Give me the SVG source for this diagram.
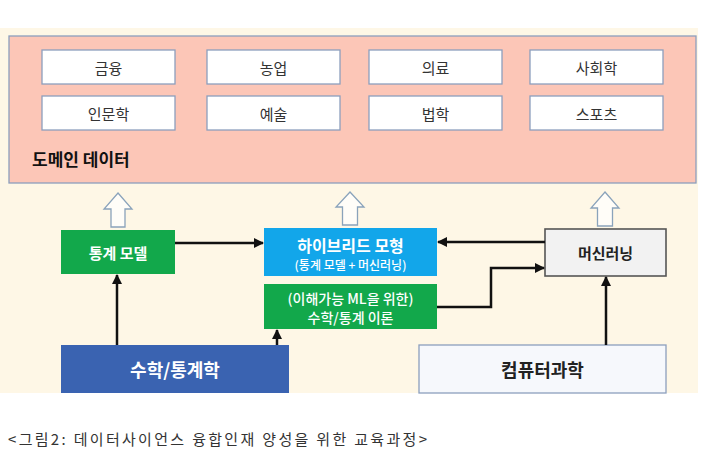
<svg xmlns="http://www.w3.org/2000/svg" width="710" height="473" viewBox="0 0 710 473">
<style>
text{font-family:"Noto Sans CJK KR","Noto Sans",sans-serif;text-anchor:middle;dominant-baseline:central}
.dom rect{fill:#fff;stroke:#8c9fbd;stroke-width:1.3}
.dom text{font-size:15px;fill:#333}
.hollow{fill:#fffdf8;stroke:#8aa3bb;stroke-width:1.3}
.wb{fill:#fff;font-weight:bold}
.conn{stroke:#111;stroke-width:2.5;fill:none;marker-end:url(#ah)}
</style>
<defs>
<marker id="ah" viewBox="0 0 10 10" refX="9" refY="5" markerWidth="4" markerHeight="4" orient="auto" markerUnits="strokeWidth">
<path d="M0,0 L10,5 L0,10 z" fill="#111"/>
</marker>
</defs>
<rect x="0" y="0" width="710" height="473" fill="#fff"/>
<rect x="0" y="28" width="698" height="365" fill="#fef7e6"/>
<g id="domain">
<rect x="9" y="36" width="687" height="147" fill="#fcc6b7" stroke="#8c9fbd" stroke-width="1.3"/>
<text x="32" y="158" style="text-anchor:start;font-size:17px;font-weight:bold;fill:#111">도메인 데이터</text>
</g>
<g id="d1" class="dom"><rect x="42" y="50" width="133" height="34"/><text x="108.5" y="67">금융</text></g>
<g id="d2" class="dom"><rect x="207" y="50" width="133" height="34"/><text x="273.5" y="67">농업</text></g>
<g id="d3" class="dom"><rect x="369" y="50" width="133" height="34"/><text x="435.5" y="67">의료</text></g>
<g id="d4" class="dom"><rect x="530" y="50" width="133" height="34"/><text x="596.5" y="67">사회학</text></g>
<g id="d5" class="dom"><rect x="42" y="96" width="133" height="34"/><text x="108.5" y="113">인문학</text></g>
<g id="d6" class="dom"><rect x="207" y="96" width="133" height="34"/><text x="273.5" y="113">예술</text></g>
<g id="d7" class="dom"><rect x="369" y="96" width="133" height="34"/><text x="435.5" y="113">법학</text></g>
<g id="d8" class="dom"><rect x="530" y="96" width="133" height="34"/><text x="596.5" y="113">스포츠</text></g>

<g id="stat-model">
<rect x="61" y="230" width="114" height="44" fill="#12a84b"/>
<text x="118" y="252" class="wb" style="font-size:15px">통계 모델</text>
</g>
<g id="hybrid">
<rect x="264" y="228" width="173" height="48" fill="#12a6ea"/>
<text x="350.5" y="245" class="wb" style="font-size:16px">하이브리드 모형</text>
<text x="350.5" y="264" style="font-size:12px;fill:#fff;font-weight:500">(통계 모델 + 머신러닝)</text>
</g>
<g id="ml">
<rect x="545" y="229" width="121" height="47" fill="#f2f2f2" stroke="#555" stroke-width="1.6"/>
<text x="605.5" y="252" style="font-size:15px;font-weight:bold;fill:#222">머신러닝</text>
</g>
<g id="theory">
<rect x="264" y="284" width="173" height="45" fill="#12a84b"/>
<text x="350.5" y="298" style="font-size:14px;fill:#fff;font-weight:500">(이해가능 ML을 위한)</text>
<text x="350.5" y="317" style="font-size:14px;fill:#fff;font-weight:500">수학/통계 이론</text>
</g>
<g id="math">
<rect x="61" y="345" width="228" height="48" fill="#3a63b1"/>
<text x="175" y="369" class="wb" style="font-size:18px">수학/통계학</text>
</g>
<g id="cs">
<rect x="419" y="345" width="247" height="48" fill="#f6f8fc" stroke="#8c9fbd" stroke-width="1.3"/>
<text x="542.5" y="369" style="font-size:18px;font-weight:bold;fill:#222">컴퓨터과학</text>
</g>

<g id="connectors">
<path class="hollow" d="M118,193 L132,209 L125,209 L125,227 L111,227 L111,209 L104,209 Z"/>
<path class="hollow" d="M350,192 L364,207 L357.5,207 L357.5,225 L342.5,225 L342.5,207 L336,207 Z"/>
<path class="hollow" d="M605,192 L619,208 L612.5,208 L612.5,226 L597.5,226 L597.5,208 L591,208 Z"/>
<path class="conn" d="M175,243 L263,243"/>
<path class="conn" d="M545,242 L438,242"/>
<path class="conn" d="M437,307 L491,307 L491,268 L544,268"/>
<path class="conn" d="M117,345 L117,275"/>
<path class="conn" d="M277,345 L277,330"/>
<path class="conn" d="M606,345 L606,277"/>
</g>
<text x="8" y="438" textLength="419" lengthAdjust="spacing" style="text-anchor:start;font-size:15px;fill:#333;font-family:'Noto Sans CJK KR',sans-serif">&lt;그림2: 데이터사이언스 융합인재 양성을 위한 교육과정&gt;</text>
</svg>
